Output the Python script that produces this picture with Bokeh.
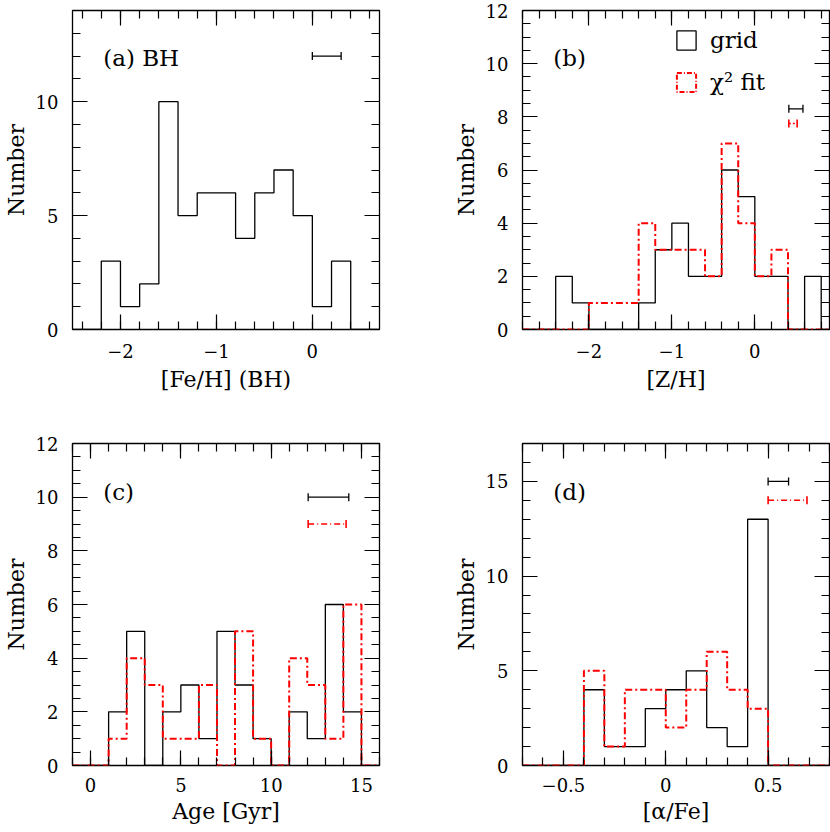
import numpy as np
from bokeh.plotting import figure
from bokeh.models import (Range1d, LinearAxis, FixedTicker, CustomJSTickFormatter,
                          Label, Legend, LegendItem)
from bokeh.layouts import column, row
from bokeh.embed import file_html
from bokeh.resources import INLINE

FONT = "DejaVu Serif"

# ---------------- data ----------------
# (a) [Fe/H] (BH)
FEH_BIN_START = -2.2
FEH_BIN_WIDTH = 0.2
FEH_COUNTS = [3, 1, 2, 10, 5, 6, 6, 4, 6, 7, 5, 1, 3]

# (b) [Z/H]
ZH_BIN_START = -2.4
ZH_BIN_WIDTH = 0.2
ZH_GRID = [2, 1, 0, 0, 0, 1, 3, 4, 2, 2, 6, 5, 2, 2, 0, 2]
ZH_CHI2 = [0, 0, 1, 1, 1, 4, 3, 3, 3, 2, 7, 4, 2, 3, 0, 0]

# (c) Age [Gyr]
AGE_BIN_START = 0
AGE_BIN_WIDTH = 1
AGE_GRID = [0, 2, 5, 0, 2, 3, 1, 5, 3, 1, 0, 2, 1, 6, 2]
AGE_CHI2 = [0, 1, 4, 3, 1, 1, 3, 0, 5, 1, 0, 4, 3, 1, 6]

# (d) [alpha/Fe]
AFE_BIN_START = -0.4
AFE_BIN_WIDTH = 0.1
AFE_GRID = [4, 1, 1, 3, 4, 5, 2, 1, 13]
AFE_CHI2 = [5, 1, 4, 4, 2, 4, 6, 4, 3]

# typical error bars: (x_left, x_right, y)
ERR_A_GRID = (0.0, 0.3, 12)
ERR_B_GRID = (0.41, 0.58, 8.3)
ERR_B_CHI2 = (0.41, 0.51, 7.75)
ERR_C_GRID = (12.05, 14.3, 10)
ERR_C_CHI2 = (12.05, 14.15, 9)
ERR_D_GRID = (0.5, 0.6, 15)
ERR_D_CHI2 = (0.5, 0.69, 14)

# axes
A_XRANGE, A_YRANGE = (-2.5, 0.7), (0, 14)
B_XRANGE, B_YRANGE = (-2.8, 0.9), (0, 12)
C_XRANGE, C_YRANGE = (-1, 16), (0, 12)
D_XRANGE, D_YRANGE = (-0.7, 0.8), (0, 17)

A_XTICKS, A_YTICKS = [-2, -1, 0], [0, 5, 10]
B_XTICKS, B_YTICKS = [-2, -1, 0], [0, 2, 4, 6, 8, 10, 12]
C_XTICKS, C_YTICKS = [0, 5, 10, 15], [0, 2, 4, 6, 8, 10, 12]
D_XTICKS, D_YTICKS = [-0.5, 0, 0.5], [0, 5, 10, 15]

LABELS = ["(a) BH", "(b)", "(c)", "(d)"]
XLABELS = ["[Fe/H] (BH)", "[Z/H]", "Age [Gyr]", "[\u03b1/Fe]"]
YLABEL = "Number"
LEGEND_LABELS = ["grid", "\u03c7\u00b2 fit"]

BLACK_W = 1.3
RED_W = 2.0
RED_DASH = "7 3 2 3"

minus_fmt_code = "return (tick < 0 ? '\u2212' : '') + Math.abs(tick);"


def minor(rng, step):
    start = np.ceil(rng[0] / step - 1e-9) * step
    return [float(v) for v in np.round(np.arange(start, rng[1] + 1e-9, step), 6)]


def style_axis(ax, ticks, minors, labels=True, standoff=12, label_standoff=4):
    ax.ticker = FixedTicker(ticks=ticks, minor_ticks=minors)
    ax.major_tick_in = 15
    ax.major_tick_out = 0
    ax.minor_tick_in = 8
    ax.minor_tick_out = 0
    ax.major_tick_line_color = "black"
    ax.minor_tick_line_color = "black"
    ax.major_tick_line_width = 1.2
    ax.minor_tick_line_width = 1.2
    ax.axis_line_color = None
    if labels:
        ax.formatter = CustomJSTickFormatter(code=minus_fmt_code)
        ax.major_label_text_font = FONT
        ax.major_label_text_font_size = "18px"
        ax.major_label_text_color = "black"
        ax.major_label_standoff = standoff
        ax.axis_label_text_font = FONT
        ax.axis_label_text_font_size = "22px"
        ax.axis_label_text_font_style = "normal"
        ax.axis_label_text_color = "black"
        ax.axis_label_standoff = label_standoff
    else:
        ax.formatter = CustomJSTickFormatter(code="return '';")
        ax.major_label_standoff = 0
        ax.major_label_text_font_size = "0px"


def edges_of(start, width, counts):
    return [start + i * width for i in range(len(counts) + 1)]


def step_xy(rng, start, width, counts):
    edges = edges_of(start, width, counts)
    xs = [rng[0]] + edges + [rng[1]]
    ys = [0] + list(counts) + [0, 0]
    return xs, ys


def make_panel(xr, yr, xt, xm, yt, ym, xlabel, label, bl, br, bt, bb, fh,
               xstand=12, xlstand=4):
    p = figure(frame_width=307, frame_height=fh,
               x_range=Range1d(*xr), y_range=Range1d(*yr),
               output_backend="svg", toolbar_location=None,
               min_border_left=bl, min_border_right=br,
               min_border_top=bt, min_border_bottom=bb,
               x_axis_label=xlabel, y_axis_label=YLABEL,
               background_fill_color="white", border_fill_color="white")
    p.grid.visible = False
    p.outline_line_color = "black"
    p.outline_line_width = BLACK_W
    p.outline_line_alpha = 1.0
    style_axis(p.xaxis[0], xt, minor(xr, xm), standoff=xstand, label_standoff=xlstand)
    style_axis(p.yaxis[0], yt, minor(yr, ym), standoff=14, label_standoff=4)
    top = LinearAxis()
    style_axis(top, xt, minor(xr, xm), labels=False)
    p.add_layout(top, "above")
    right = LinearAxis()
    style_axis(right, yt, minor(yr, ym), labels=False)
    p.add_layout(right, "right")
    p.add_layout(Label(x=xr[0] + 0.1 * (xr[1] - xr[0]),
                       y=yr[0] + 0.85 * (yr[1] - yr[0]),
                       text=label, text_font=FONT, text_font_size="23px",
                       text_baseline="middle", text_align="left",
                       text_color="black"))
    return p


def add_hist(p, rng, start, width, counts, red=False):
    xs, ys = step_xy(rng, start, width, counts)
    if red:
        r = p.step(xs, ys, mode="after", line_color="red", line_width=RED_W,
                   line_dash=RED_DASH)
    else:
        r = p.step(xs, ys, mode="after", line_color="black", line_width=BLACK_W)
    return r


def add_err(p, err, red=False, dash="solid"):
    x0, x1, y = err
    color = "red" if red else "black"
    lw = 1.6 if red else BLACK_W
    p.segment(x0=[x0], y0=[y], x1=[x1], y1=[y], line_color=color,
              line_width=lw, line_dash=dash)
    p.scatter(x=[x0, x1], y=[y, y], marker="dash", angle=np.pi / 2, size=8,
              line_color=color, line_width=lw)


TOP_FH = 319
# (a)
pa = make_panel(A_XRANGE, A_YRANGE, A_XTICKS, 0.2, A_YTICKS, 1, XLABELS[0], LABELS[0],
                71, 69, 10, 92, TOP_FH, xstand=14, xlstand=6)
add_hist(pa, A_XRANGE, FEH_BIN_START, FEH_BIN_WIDTH, FEH_COUNTS)
add_err(pa, ERR_A_GRID)

# (b)
pb = make_panel(B_XRANGE, B_YRANGE, B_XTICKS, 0.2, B_YTICKS, 0.5, XLABELS[1], LABELS[1],
                74, 1, 10, 92, TOP_FH, xstand=14, xlstand=6)
add_hist(pb, B_XRANGE, ZH_BIN_START, ZH_BIN_WIDTH, ZH_GRID)
add_hist(pb, B_XRANGE, ZH_BIN_START, ZH_BIN_WIDTH, ZH_CHI2, red=True)
add_err(pb, ERR_B_GRID)
add_err(pb, ERR_B_CHI2, red=True, dash="2 2")

# hidden bar versions of the two histograms, used only as legend keys
zh_edges = edges_of(ZH_BIN_START, ZH_BIN_WIDTH, ZH_GRID)
lg_black = pb.quad(left=zh_edges[:-1], right=zh_edges[1:], top=ZH_GRID, bottom=0,
                   fill_alpha=0, line_color="black", line_width=BLACK_W)
lg_red = pb.quad(left=zh_edges[:-1], right=zh_edges[1:], top=ZH_CHI2, bottom=0,
                 fill_alpha=0, line_color="red", line_width=RED_W, line_dash="5 2 1 2")
lg_black.visible = False
lg_red.visible = False
legend = Legend(items=[LegendItem(label=LEGEND_LABELS[0], renderers=[lg_black]),
                       LegendItem(label=LEGEND_LABELS[1], renderers=[lg_red])],
                location=(152, 234), padding=0, margin=0, spacing=16,
                glyph_width=24, glyph_height=24, label_standoff=12,
                label_text_font=FONT, label_text_font_size="23px",
                label_text_color="black", click_policy="none",
                border_line_color=None, background_fill_alpha=0)
pb.add_layout(legend)

# (c)
pc = make_panel(C_XRANGE, C_YRANGE, C_XTICKS, 1, C_YTICKS, 0.5, XLABELS[2], LABELS[2],
                71, 69, 22, 62, 322)
add_hist(pc, C_XRANGE, AGE_BIN_START, AGE_BIN_WIDTH, AGE_GRID)
add_hist(pc, C_XRANGE, AGE_BIN_START, AGE_BIN_WIDTH, AGE_CHI2, red=True)
add_err(pc, ERR_C_GRID)
add_err(pc, ERR_C_CHI2, red=True, dash="6 3 1 3")

# (d)
pd_ = make_panel(D_XRANGE, D_YRANGE, D_XTICKS, 0.1, D_YTICKS, 1, XLABELS[3], LABELS[3],
                 74, 1, 22, 62, 322)
add_hist(pd_, D_XRANGE, AFE_BIN_START, AFE_BIN_WIDTH, AFE_GRID)
add_hist(pd_, D_XRANGE, AFE_BIN_START, AFE_BIN_WIDTH, AFE_CHI2, red=True)
add_err(pd_, ERR_D_GRID)
add_err(pd_, ERR_D_CHI2, red=True, dash="6 3 1 3")

layout = column(row(pa, pb, spacing=0), row(pc, pd_, spacing=0), spacing=0)

open("out.html", "w").write(file_html(layout, INLINE))
